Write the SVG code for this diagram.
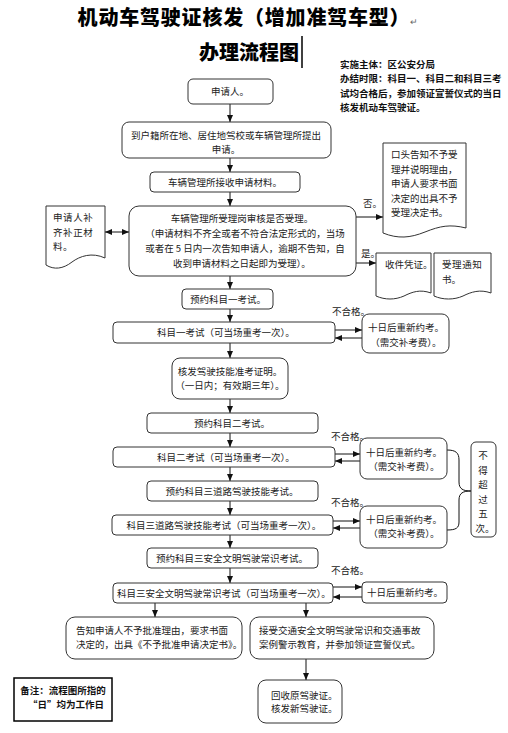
<svg xmlns="http://www.w3.org/2000/svg" width="508" height="733" viewBox="0 0 508 733">
<defs>
<marker id="ah" markerUnits="userSpaceOnUse" markerWidth="7" markerHeight="6" refX="7" refY="3" orient="auto">
<path d="M0,0 L7,3 L0,6 Z" fill="#111"/>
</marker>
<marker id="as" markerUnits="userSpaceOnUse" markerWidth="7" markerHeight="6" refX="0" refY="3" orient="auto">
<path d="M7,0 L0,3 L7,6 Z" fill="#111"/>
</marker>
</defs>
<style>
.b{fill:#fff;stroke:#333;stroke-width:1}
.t{font-family:"Noto Sans CJK SC","Liberation Sans",sans-serif;font-size:9.5px;fill:#222}
.c{text-anchor:middle}
.n{font-family:"Noto Sans CJK SC","Liberation Sans",sans-serif;font-size:9.5px;font-weight:bold;fill:#111}
.h{font-family:"Noto Sans CJK SC","Liberation Sans",sans-serif;font-size:20px;font-weight:900;fill:#000;text-anchor:middle}
.l{fill:none;stroke:#111;stroke-width:1}
</style>
<rect width="508" height="733" fill="#fff"/>

<g id="title">
<text class="h" x="248" y="25" letter-spacing="0.8">机动车驾驶证核发（增加准驾车型）<tspan font-size="9" font-weight="normal" fill="#666" letter-spacing="0">↵</tspan></text>
<text class="h" x="249" y="60">办理流程图</text>
<line x1="302" y1="36" x2="302" y2="68" stroke="#000" stroke-width="1.5"/>
</g>
<g id="note">
<text class="n" x="340" y="68">实施主体：区公安分局</text>
<text class="n" x="340" y="82">办结时限：科目一、科目二和科目三考</text>
<text class="n" x="340" y="97">试均合格后，参加领证宣誓仪式的当日</text>
<text class="n" x="340" y="111">核发机动车驾驶证。</text>
</g>

<g id="connectors">
<line class="l" x1="230" y1="104" x2="230" y2="122" marker-end="url(#ah)"/>
<line class="l" x1="230" y1="158" x2="230" y2="172" marker-end="url(#ah)"/>
<line class="l" x1="230" y1="192" x2="230" y2="206" marker-end="url(#ah)"/>
<line class="l" x1="230" y1="276" x2="230" y2="289" marker-end="url(#ah)"/>
<line class="l" x1="230" y1="309" x2="230" y2="322" marker-end="url(#ah)"/>
<line class="l" x1="230" y1="343" x2="230" y2="358" marker-end="url(#ah)"/>
<line class="l" x1="230" y1="399" x2="230" y2="413" marker-end="url(#ah)"/>
<line class="l" x1="230" y1="433" x2="230" y2="447" marker-end="url(#ah)"/>
<line class="l" x1="230" y1="467" x2="230" y2="481" marker-end="url(#ah)"/>
<line class="l" x1="230" y1="501" x2="230" y2="515" marker-end="url(#ah)"/>
<line class="l" x1="230" y1="535" x2="230" y2="548" marker-end="url(#ah)"/>
<line class="l" x1="230" y1="568" x2="230" y2="583" marker-end="url(#ah)"/>
<line class="l" x1="155" y1="603" x2="155" y2="617" marker-end="url(#ah)"/>
<line class="l" x1="306" y1="603" x2="306" y2="617" marker-end="url(#ah)"/>
<line class="l" x1="306" y1="659" x2="306" y2="680" marker-end="url(#ah)"/>
<line class="l" x1="105" y1="232" x2="129" y2="232" marker-start="url(#as)" marker-end="url(#ah)"/>
<line class="l" x1="356" y1="217" x2="383" y2="217" marker-end="url(#ah)"/>
<line class="l" x1="356" y1="263" x2="376" y2="263" marker-end="url(#ah)"/>
<line class="l" x1="335" y1="330" x2="362" y2="330" marker-end="url(#ah)"/>
<line class="l" x1="362" y1="338" x2="335" y2="338" marker-end="url(#ah)"/>
<line class="l" x1="335" y1="454" x2="360" y2="454" marker-end="url(#ah)"/>
<line class="l" x1="360" y1="461" x2="335" y2="461" marker-end="url(#ah)"/>
<line class="l" x1="333" y1="521" x2="360" y2="521" marker-end="url(#ah)"/>
<line class="l" x1="360" y1="528" x2="333" y2="528" marker-end="url(#ah)"/>
<line class="l" x1="333" y1="587" x2="362" y2="587" marker-end="url(#ah)"/>
<line class="l" x1="362" y1="597" x2="333" y2="597" marker-end="url(#ah)"/>
<path class="l" stroke="#333" d="M447,450 C456,450 459,453 459,460 L459,482 C459,489 463,491 471,491 C463,491 459,493 459,500 L459,522 C459,528 456,530 447,530"/>
<text class="t" x="363" y="207">否。</text>
<text class="t" x="361" y="257">是。</text>
<text class="t" x="332" y="315">不合格。</text>
<text class="t" x="331" y="440">不合格。</text>
<text class="t" x="331" y="506">不合格。</text>
<text class="t" x="331" y="574">不合格。</text>
</g>

<g id="n-applicant">
<rect class="b" x="188" y="79" width="85" height="25" rx="5"/>
<text class="t c" x="230" y="95">申请人。</text>
</g>
<g id="n-apply">
<rect class="b" x="122" y="122" width="209" height="36" rx="7"/>
<text class="t c" x="226" y="139">到户籍所在地、居住地驾校或车辆管理所提出</text>
<text class="t c" x="226" y="153">申请。</text>
</g>
<g id="n-receive">
<rect class="b" x="150" y="172" width="150" height="20" rx="4"/>
<text class="t c" x="225" y="186">车辆管理所接收申请材料。</text>
</g>
<g id="n-review">
<rect class="b" x="129" y="206" width="227" height="70" rx="10"/>
<text class="t c" x="242" y="222">车辆管理所受理岗审核是否受理。</text>
<text class="t c" x="245" y="237">（申请材料不齐全或者不符合法定形式的，当场</text>
<text class="t c" x="245" y="252">或者在 5 日内一次告知申请人，逾期不告知，自</text>
<text class="t c" x="242" y="267">收到申请材料之日起即为受理）。</text>
</g>
<g id="n-supplement">
<path class="b" d="M46,206 H105 V258 C92,252 80,256 72,262 C63,269 54,270 46,265 Z"/>
<text class="t" x="53" y="221" letter-spacing="0.6">申请人补</text>
<text class="t" x="53" y="236" letter-spacing="0.6">齐补正材</text>
<text class="t" x="53" y="250" letter-spacing="0.6">料。</text>
</g>
<g id="n-reject">
<path class="b" d="M383,143 H466 V228 C450,224 440,226 425,232 C410,238 398,239 383,233 Z"/>
<text class="t" x="391" y="158">口头告知不予受</text>
<text class="t" x="391" y="173">理并说明理由，</text>
<text class="t" x="391" y="187">申请人要求书面</text>
<text class="t" x="391" y="202">决定的出具不予</text>
<text class="t" x="391" y="216">受理决定书。</text>
</g>
<g id="n-voucher">
<path class="b" d="M376,253 H431 V293 C420,289 412,292 404,296 C395,300 385,300 376,296 Z"/>
<text class="t" x="385" y="268">收件凭证。</text>
</g>
<g id="n-notice">
<path class="b" d="M434,253 H491 V293 C480,289 471,292 463,296 C454,300 443,300 434,296 Z"/>
<text class="t" x="442" y="268" letter-spacing="0.6">受理通知</text>
<text class="t" x="442" y="283">书。</text>
</g>
<g id="n-book1">
<rect class="b" x="182" y="289" width="91" height="20" rx="4"/>
<text class="t c" x="228" y="303">预约科目一考试。</text>
</g>
<g id="n-exam1">
<rect class="b" x="113" y="322" width="222" height="21" rx="4"/>
<text class="t c" x="226" y="336">科目一考试（可当场重考一次）。</text>
</g>
<g id="n-retry1">
<rect class="b" x="362" y="314" width="87" height="39" rx="7"/>
<text class="t c" x="406" y="331">十日后重新约考。</text>
<text class="t c" x="406" y="346">（需交补考费）。</text>
</g>
<g id="n-permit">
<rect class="b" x="172" y="358" width="116" height="41" rx="8"/>
<text class="t c" x="230" y="375">核发驾驶技能准考证明。</text>
<text class="t c" x="230" y="389">（一日内；有效期三年）。</text>
</g>
<g id="n-book2">
<rect class="b" x="147" y="413" width="171" height="20" rx="4"/>
<text class="t c" x="232" y="427">预约科目二考试。</text>
</g>
<g id="n-exam2">
<rect class="b" x="113" y="447" width="222" height="20" rx="4"/>
<text class="t c" x="226" y="461">科目二考试（可当场重考一次）。</text>
</g>
<g id="n-retry2">
<rect class="b" x="360" y="438" width="87" height="41" rx="7"/>
<text class="t c" x="404" y="456">十日后重新约考。</text>
<text class="t c" x="404" y="470">（需交补考费）。</text>
</g>
<g id="n-book3">
<rect class="b" x="147" y="481" width="171" height="20" rx="4"/>
<text class="t c" x="232" y="495">预约科目三道路驾驶技能考试。</text>
</g>
<g id="n-exam3">
<rect class="b" x="112" y="515" width="221" height="20" rx="4"/>
<text class="t c" x="224" y="529">科目三道路驾驶技能考试（可当场重考一次）。</text>
</g>
<g id="n-retry3">
<rect class="b" x="360" y="506" width="87" height="42" rx="7"/>
<text class="t c" x="404" y="523">十日后重新约考。</text>
<text class="t c" x="404" y="537">（需交补考费）。</text>
</g>
<g id="n-limit">
<rect class="b" x="471" y="442" width="25" height="95" rx="5"/>
<text class="t c" x="483" y="459">不</text>
<text class="t c" x="483" y="474">得</text>
<text class="t c" x="483" y="488">超</text>
<text class="t c" x="483" y="503">过</text>
<text class="t c" x="483" y="517">五</text>
<text class="t c" x="485" y="532">次。</text>
</g>
<g id="n-book4">
<rect class="b" x="147" y="548" width="171" height="20" rx="4"/>
<text class="t c" x="232" y="562">预约科目三安全文明驾驶常识考试。</text>
</g>
<g id="n-exam4">
<rect class="b" x="113" y="583" width="220" height="20" rx="4"/>
<text class="t c" x="224" y="597">科目三安全文明驾驶常识考试（可当场重考一次）。</text>
</g>
<g id="n-retry4">
<rect class="b" x="362" y="582" width="85" height="21" rx="4"/>
<text class="t c" x="405" y="596">十日后重新约考。</text>
</g>
<g id="n-deny">
<rect class="b" x="66" y="617" width="176" height="42" rx="9"/>
<text class="t" x="76" y="634">告知申请人不予批准理由，要求书面</text>
<text class="t" x="76" y="648">决定的，出具《不予批准申请决定书》。</text>
</g>
<g id="n-ceremony">
<rect class="b" x="250" y="617" width="184" height="42" rx="9"/>
<text class="t" x="259" y="634">接受交通安全文明驾驶常识和交通事故</text>
<text class="t" x="259" y="648">案例警示教育，并参加领证宣誓仪式。</text>
</g>
<g id="n-issue">
<rect class="b" x="258" y="680" width="84" height="43" rx="8"/>
<text class="t" x="271" y="699">回收原驾驶证。</text>
<text class="t" x="271" y="712">核发新驾驶证。</text>
</g>
<g id="n-remark">
<rect x="14" y="678" width="98" height="43" fill="#fff" stroke="#000" stroke-width="1.5"/>
<text class="n" x="63" y="694" text-anchor="middle">备注：流程图所指的</text>
<text class="n" x="66" y="708" text-anchor="middle">“日”均为工作日</text>
</g>
</svg>
